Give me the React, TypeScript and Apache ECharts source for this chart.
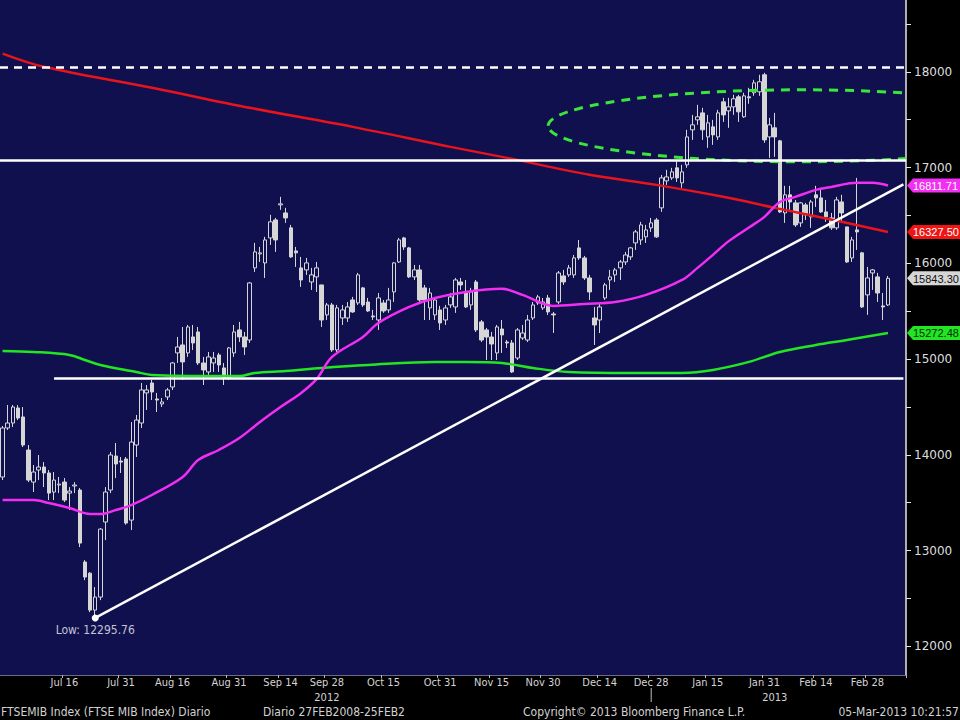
import { useEffect, useRef } from 'react';
import * as echarts from 'echarts';

// ---------- calendar (trading days of Borsa Italiana) ----------
const FIRST_DAY = [2012, 5, 28];
const HOLIDAYS = ['2012-08-15', '2012-12-24', '2012-12-25', '2012-12-26', '2012-12-31', '2013-01-01'];
const SLOT_COUNT = 176;

function tradingDays(): string[] {
  const out: string[] = [];
  const d = new Date(Date.UTC(FIRST_DAY[0], FIRST_DAY[1], FIRST_DAY[2]));
  while (out.length < SLOT_COUNT) {
    const wd = d.getUTCDay();
    const s = d.toISOString().slice(0, 10);
    if (wd !== 0 && wd !== 6 && !HOLIDAYS.includes(s)) out.push(s);
    d.setUTCDate(d.getUTCDate() + 1);
  }
  return out;
}
const CATEGORIES = tradingDays();

// ---------- daily candles: [open, high, low, close] ----------
const CANDLES_OHLC: number[][] = [
  [13768, 14301, 13736, 14280], [14280, 14520, 14259, 14332], [14332, 14520, 14290, 14499], [14489, 14520, 14363, 14384],
  [14395, 14499, 14081, 14102], [14050, 14102, 13715, 13736], [13715, 13893, 13611, 13820], [13841, 13998, 13736, 13872],
  [13872, 13924, 13663, 13810], [13810, 13841, 13527, 13600], [13611, 13820, 13527, 13736], [13684, 13768, 13600, 13694],
  [13715, 13757, 13506, 13527], [13600, 13663, 13423, 13621], [13674, 13715, 13600, 13684], [13632, 13653, 13036, 13078],
  [12880, 12900, 12691, 12723], [12764, 12775, 12357, 12378], [12378, 12618, 12295.76, 12514], [12514, 13235, 12482, 13224],
  [13298, 13663, 13109, 13611], [13632, 14029, 13600, 13998], [13987, 14123, 13757, 13904], [13935, 13977, 13810, 13924],
  [13956, 13977, 13270, 13287], [13318, 14342, 13214, 14133], [14102, 14416, 13977, 14363], [14332, 14750, 14280, 14677],
  [14646, 14729, 14468, 14677], [14750, 14781, 14572, 14656], [14583, 14646, 14447, 14572], [14531, 14593, 14499, 14552],
  [14604, 14698, 14572, 14677], [14708, 14970, 14677, 14959], [15064, 15231, 14959, 15126], [15147, 15335, 14781, 14970],
  [15064, 15356, 15022, 15335], [15231, 15356, 15095, 15168], [15283, 15335, 14938, 14959], [14959, 15022, 14729, 14886],
  [14865, 15074, 14834, 15022], [14959, 15074, 14865, 15011], [15043, 15064, 14865, 14938], [14907, 14959, 14729, 14802],
  [14802, 15126, 14781, 15116], [15064, 15356, 15022, 15283], [15304, 15388, 15178, 15231], [15231, 15283, 15043, 15126],
  [15199, 15805, 15168, 15795], [15952, 16213, 15910, 16119], [16098, 16171, 16014, 16109], [16004, 16276, 15847, 16244],
  [16265, 16506, 16192, 16433], [16453, 16474, 16119, 16244], [16610, 16694, 16558, 16621], [16526, 16579, 16422, 16474],
  [16370, 16401, 16056, 16067], [16129, 16171, 15962, 16109], [15952, 16067, 15753, 15826], [15931, 16056, 15879, 16004],
  [15805, 15952, 15722, 15879], [15858, 16014, 15701, 15952], [15774, 15774, 15335, 15408], [15461, 15586, 15408, 15565],
  [15565, 15586, 15074, 15095], [15095, 15565, 15074, 15534], [15429, 15565, 15356, 15513], [15429, 15596, 15388, 15544],
  [15617, 15649, 15482, 15492], [15586, 15900, 15565, 15879], [15743, 15753, 15544, 15565], [15596, 15638, 15492, 15502],
  [15450, 15513, 15408, 15440], [15408, 15690, 15304, 15638], [15586, 15617, 15482, 15502], [15513, 15743, 15482, 15617],
  [15701, 16014, 15596, 16004], [16014, 16265, 16004, 16244], [16265, 16276, 16140, 16171], [16161, 16171, 15847, 15858],
  [15858, 15983, 15826, 15931], [15931, 15983, 15596, 15617], [15743, 15774, 15408, 15617], [15534, 15743, 15408, 15690],
  [15461, 15638, 15408, 15617], [15513, 15555, 15304, 15377], [15408, 15565, 15356, 15534], [15565, 15690, 15534, 15649],
  [15544, 15847, 15482, 15826], [15805, 15847, 15722, 15774], [15690, 15826, 15534, 15544], [15565, 15743, 15513, 15701],
  [15805, 15826, 15283, 15304], [15388, 15408, 15178, 15199], [15304, 15325, 14990, 15230], [15230, 15283, 14990, 15157],
  [15064, 15356, 14990, 15335], [15314, 15408, 15064, 15252], [15178, 15199, 15116, 15168], [15168, 15199, 14855, 14865],
  [15011, 15325, 14990, 15304], [15220, 15356, 15199, 15272], [15199, 15461, 15178, 15408], [15429, 15596, 15408, 15565],
  [15586, 15670, 15565, 15649], [15534, 15638, 15513, 15596], [15638, 15670, 15461, 15492], [15471, 15492, 15273, 15461],
  [15596, 15920, 15576, 15899], [15868, 15931, 15774, 15805], [15879, 15983, 15858, 15952], [15879, 16087, 15847, 16056],
  [16161, 16244, 16035, 16056], [16056, 16077, 15826, 15847], [15847, 15879, 15617, 15701], [15429, 15544, 15147, 15356],
  [15408, 15586, 15272, 15544], [15638, 15795, 15617, 15774], [15826, 15931, 15722, 15858], [15879, 15952, 15805, 15931],
  [15952, 16035, 15826, 16014], [16014, 16119, 15983, 16087], [16067, 16171, 16035, 16161], [16213, 16349, 16140, 16328],
  [16244, 16433, 16192, 16401], [16276, 16401, 16213, 16349], [16370, 16474, 16328, 16422], [16453, 16474, 16265, 16276],
  [16579, 16923, 16537, 16892], [16861, 16976, 16819, 16902], [16892, 16997, 16871, 16955], [16997, 17080, 16850, 16892],
  [16840, 17028, 16788, 16955], [17028, 17394, 16997, 17320], [17394, 17550, 17289, 17446], [17498, 17655, 17446, 17530],
  [17571, 17624, 17289, 17394], [17320, 17550, 17206, 17467], [17425, 17498, 17237, 17341], [17320, 17603, 17289, 17571],
  [17686, 17728, 17477, 17550], [17592, 17728, 17415, 17634], [17634, 17760, 17550, 17718], [17739, 17760, 17477, 17582],
  [17530, 17781, 17519, 17749], [17739, 17833, 17666, 17728], [17781, 17916, 17749, 17885], [17791, 17969, 17749, 17896],
  [17969, 17990, 17258, 17289], [17320, 17519, 17101, 17446], [17415, 17571, 17112, 17320], [17279, 17289, 16526, 16537],
  [16526, 16809, 16422, 16715], [16715, 16809, 16558, 16641], [16631, 16662, 16380, 16401], [16422, 16641, 16380, 16631],
  [16610, 16631, 16453, 16506], [16485, 16662, 16370, 16641], [16715, 16809, 16589, 16683], [16683, 16788, 16526, 16537],
  [16537, 16662, 16433, 16485], [16474, 16526, 16349, 16370], [16370, 16694, 16349, 16662], [16641, 16715, 16422, 16526],
  [16380, 16380, 16004, 16014], [16056, 16276, 16014, 16244], [16349, 16892, 16140, 16328], [16109, 16119, 15534, 15544],
  [15670, 15962, 15461, 15847], [15899, 15941, 15722, 15931], [15858, 15900, 15596, 15690], [15555, 15690, 15408, 15544],
  [15565, 15868, 15555, 15843.30],
];

// ---------- moving averages: [trading-day index, value] ----------
const MA_MAGENTA = [
  [0, 13527], [6, 13527], [9, 13496], [13, 13444], [17, 13381], [19, 13381], [22, 13423], [25, 13475], [29, 13580],
  [35, 13768], [38, 13945], [42, 14050], [46, 14175], [50, 14343], [54, 14499], [58, 14646], [61, 14790], [64, 15022],
  [70, 15231], [73, 15377], [79, 15544], [84, 15638], [90, 15701], [97, 15733], [101, 15670], [107, 15555], [113, 15576],
  [119, 15596], [125, 15670], [132, 15826], [135, 15952], [138, 16088], [141, 16229], [145, 16374], [148, 16485],
  [151, 16641], [154, 16694], [158, 16767], [161, 16798], [166, 16840], [169, 16840], [172, 16811.71],
];
const MA_RED = [
  [0, 18190], [8, 18052], [29, 17833], [48, 17624], [68, 17425], [87, 17216], [98, 17101], [114, 16924],
  [127, 16819], [140, 16694], [150, 16579], [163, 16433], [172, 16327.5],
];
const MA_GREEN = [
  [0, 15084], [6, 15074], [13, 15043], [16, 14990], [19, 14938], [26, 14865], [29, 14834], [42, 14823], [46, 14823],
  [49, 14855], [55, 14875], [62, 14907], [71, 14938], [84, 14970], [90, 14970], [97, 14959], [103, 14907], [110, 14865],
  [122, 14855], [132, 14855], [138, 14886], [145, 14970], [151, 15074], [158, 15147], [164, 15199], [172, 15272.48],
];

// ---------- annotations ----------
const LOW_INDEX = 18;
const LOW_VALUE = 12295.76;
const TREND_END = [175, 16825];
const RESIST_DASHED = 18050;
const RESIST_SOLID = 17080;
const SUPPORT = { fromIndex: 10, toIndex: 175, value: 14800 };
const ELLIPSE = { centerIndex: 155, centerValue: 17436, leftIndex: 106, topValue: 17812 };
const LAST_PRICE = 15843.30;
const TAGS = [
  { value: 16811.71, bg: '#f22ef2', fg: '#ffffff' },
  { value: 16327.50, bg: '#f01414', fg: '#ffffff' },
  { value: LAST_PRICE, bg: '#d6d6d6', fg: '#111111' },
  { value: 15272.48, bg: '#22e622', fg: '#0a2a0a' },
];

// ---------- axes ----------
const Y_MIN = 11700;
const Y_MAX = 18750;
const Y_LABELS = [12000, 13000, 14000, 15000, 16000, 17000, 18000];
const Y_TICKS = [12000, 12500, 13000, 13500, 14000, 14500, 15000, 15500, 16000, 16500, 17000, 17500, 18000, 18500];
const X_TICK_INDEX = [12, 23, 33, 44, 54, 63, 74, 85, 95, 105, 116, 126, 137, 148, 158, 168];
const X_TICK_LABELS = ['Jul 16', 'Jul 31', 'Aug 16', 'Aug 31', 'Sep 14', 'Sep 28', 'Oct 15', 'Oct 31', 'Nov 15', 'Nov 30', 'Dec 14', 'Dec 28', 'Jan 15', 'Jan 31', 'Feb 14', 'Feb 28'];
const YEAR_LABELS = [{ index: 63, text: '2012' }, { index: 150, text: '2013' }];
const YEAR_SEPARATOR_INDEX = 126;
const FOOTER = ['FTSEMIB Index (FTSE MIB Index) Diario', 'Diario 27FEB2008-25FEB2', 'Copyright\u00A9 2013 Bloomberg Finance L.P.', '05-Mar-2013 10:21:57'];

const NAVY = '#10104e';
const CANDLE = '#d6d6d6';
const NARROW = "'Liberation Sans Narrow', 'DejaVu Sans Condensed', 'Arial Narrow', sans-serif";

export default function App() {
  const ref = useRef<HTMLDivElement>(null);

  useEffect(() => {
    document.body.style.margin = '0';
    document.body.style.background = '#000';
    const chart = echarts.init(ref.current!, undefined, { renderer: 'svg', width: 960, height: 720 });
    const tickMap: Record<number, string> = {};
    X_TICK_INDEX.forEach((i, k) => (tickMap[i] = X_TICK_LABELS[k]));

    const candleData = CANDLES_OHLC.map(([o, h, l, c]) => [o, c, l, h]);

    const maSeries = (data: number[][], color: string) => ({
      type: 'line',
      data,
      smooth: 0.35,
      showSymbol: false,
      symbol: 'none',
      silent: true,
      z: 3,
      lineStyle: { color, width: 2.5 },
    });

    const option: any = {
      animation: false,
      backgroundColor: '#000000',
      grid: { left: -1, right: 54, top: 0, bottom: 45, show: true, backgroundColor: NAVY, borderWidth: 0 },
      xAxis: {
        type: 'category',
        data: CATEGORIES,
        boundaryGap: true,
        axisLine: { show: true, lineStyle: { color: '#6a6a8a', width: 1 } },
        axisTick: { show: true, interval: (i: number) => tickMap[i] !== undefined, length: 3, lineStyle: { color: '#bbbbbb' } },
        axisLabel: {
          interval: (i: number) => tickMap[i] !== undefined,
          formatter: (_v: string, i: number) => tickMap[i] ?? '',
          color: '#d4d4d4',
          fontSize: 11,
          fontFamily: NARROW,
          margin: 2,
        },
        splitLine: { show: false },
      },
      yAxis: {
        type: 'value',
        position: 'right',
        min: Y_MIN,
        max: Y_MAX,
        axisLine: { show: true, onZero: false, lineStyle: { color: '#e6e6e6', width: 1.5 } },
        axisTick: { show: true, customValues: Y_TICKS, length: 5, lineStyle: { color: '#e6e6e6' } },
        axisLabel: {
          customValues: Y_LABELS,
          formatter: (v: number) => String(v),
          color: '#dedede',
          fontSize: 12,
          fontFamily: 'DejaVu Sans',
          margin: 8,
        },
        splitLine: { show: false },
      },
      series: [
        {
          type: 'candlestick',
          data: candleData,
          barWidth: 4,
          z: 2,
          silent: true,
          itemStyle: { color: NAVY, color0: CANDLE, borderColor: CANDLE, borderColor0: CANDLE, borderWidth: 1 },
          markLine: {
            silent: true,
            symbol: ['none', 'none'],
            label: { show: false },
            z: 5,
            data: [
              { yAxis: RESIST_DASHED, lineStyle: { color: '#ffffff', width: 2.5, type: [8, 6] } },
              { yAxis: RESIST_SOLID, lineStyle: { color: '#ffffff', width: 2.5, type: 'solid' } },
              [
                { coord: [CATEGORIES[SUPPORT.fromIndex], SUPPORT.value], lineStyle: { color: '#ffffff', width: 2.5, type: 'solid' } },
                { coord: [CATEGORIES[SUPPORT.toIndex], SUPPORT.value] },
              ],
              [
                { coord: [CATEGORIES[LOW_INDEX], LOW_VALUE], lineStyle: { color: '#ffffff', width: 2.5, type: 'solid' } },
                { coord: [CATEGORIES[TREND_END[0]], TREND_END[1]] },
              ],
            ],
          },
          markPoint: {
            silent: true,
            z: 6,
            data: [
              {
                coord: [CATEGORIES[LOW_INDEX], LOW_VALUE],
                symbol: 'circle',
                symbolSize: 7,
                itemStyle: { color: '#ffffff' },
                label: {
                  show: true,
                  position: 'bottom',
                  distance: 3,
                  formatter: 'Low: ' + LOW_VALUE.toFixed(2),
                  color: '#c4c4d4',
                  fontSize: 12,
                  fontFamily: NARROW,
                },
              },
            ],
          },
        },
        maSeries(MA_GREEN, '#22e622'),
        maSeries(MA_RED, '#e8141c'),
        maSeries(MA_MAGENTA, '#f22ef2'),
        {
          type: 'custom',
          clip: true,
          silent: true,
          z: 4,
          data: [[ELLIPSE.centerIndex, ELLIPSE.centerValue]],
          encode: { x: 0, y: 1 },
          renderItem: (_p: any, api: any) => {
            const c = api.coord([ELLIPSE.centerIndex, ELLIPSE.centerValue]);
            const l = api.coord([ELLIPSE.leftIndex, ELLIPSE.centerValue]);
            const t = api.coord([ELLIPSE.centerIndex, ELLIPSE.topValue]);
            return {
              type: 'ellipse',
              shape: { cx: c[0], cy: c[1], rx: c[0] - l[0], ry: c[1] - t[1] },
              style: { fill: 'none', stroke: '#3ae63a', lineWidth: 3, lineDash: [9, 7] },
            };
          },
        },
      ],
    };
    chart.setOption(option);

    const yPix = (v: number) => chart.convertToPixel({ yAxisIndex: 0 }, v) as number;
    const xPix = (i: number) => chart.convertToPixel({ xAxisIndex: 0 }, i) as number;
    const axisX = 960 - 54;
    const graphics: any[] = [];
    TAGS.forEach((t) => {
      const y = yPix(t.value);
      graphics.push({
        type: 'polygon',
        z: 100,
        shape: { points: [[axisX + 1, y], [axisX + 7, y - 7], [960, y - 7], [960, y + 7], [axisX + 7, y + 7]] },
        style: { fill: t.bg },
      });
      graphics.push({
        type: 'text',
        z: 101,
        x: axisX + 7,
        y: y + 0.5,
        style: { text: t.value.toFixed(2), fill: t.fg, font: "11px 'Liberation Sans', 'DejaVu Sans', sans-serif", align: 'left', verticalAlign: 'middle' },
      });
    });
    YEAR_LABELS.forEach((yl) => {
      graphics.push({
        type: 'text',
        z: 100,
        x: xPix(yl.index),
        y: 697,
        style: { text: yl.text, fill: '#d4d4d4', font: `11px ${NARROW}`, align: 'center', verticalAlign: 'middle' },
      });
    });
    const sx = xPix(YEAR_SEPARATOR_INDEX);
    graphics.push({ type: 'line', z: 100, shape: { x1: sx, y1: 688, x2: sx, y2: 702 }, style: { stroke: '#bdbdbd', lineWidth: 1 } });
    const footerX = [1, 263, 523, 959];
    FOOTER.forEach((txt, k) => {
      graphics.push({
        type: 'text',
        z: 100,
        x: footerX[k],
        y: 712,
        style: { text: txt, fill: '#d2d2d2', font: `12px ${NARROW}`, align: k === 3 ? 'right' : 'left', verticalAlign: 'middle' },
      });
    });
    chart.setOption({ graphic: graphics });

    return () => chart.dispose();
  }, []);

  return <div ref={ref} style={{ position: 'absolute', left: 0, top: 0, width: 960, height: 720, background: '#000' }} />;
}
